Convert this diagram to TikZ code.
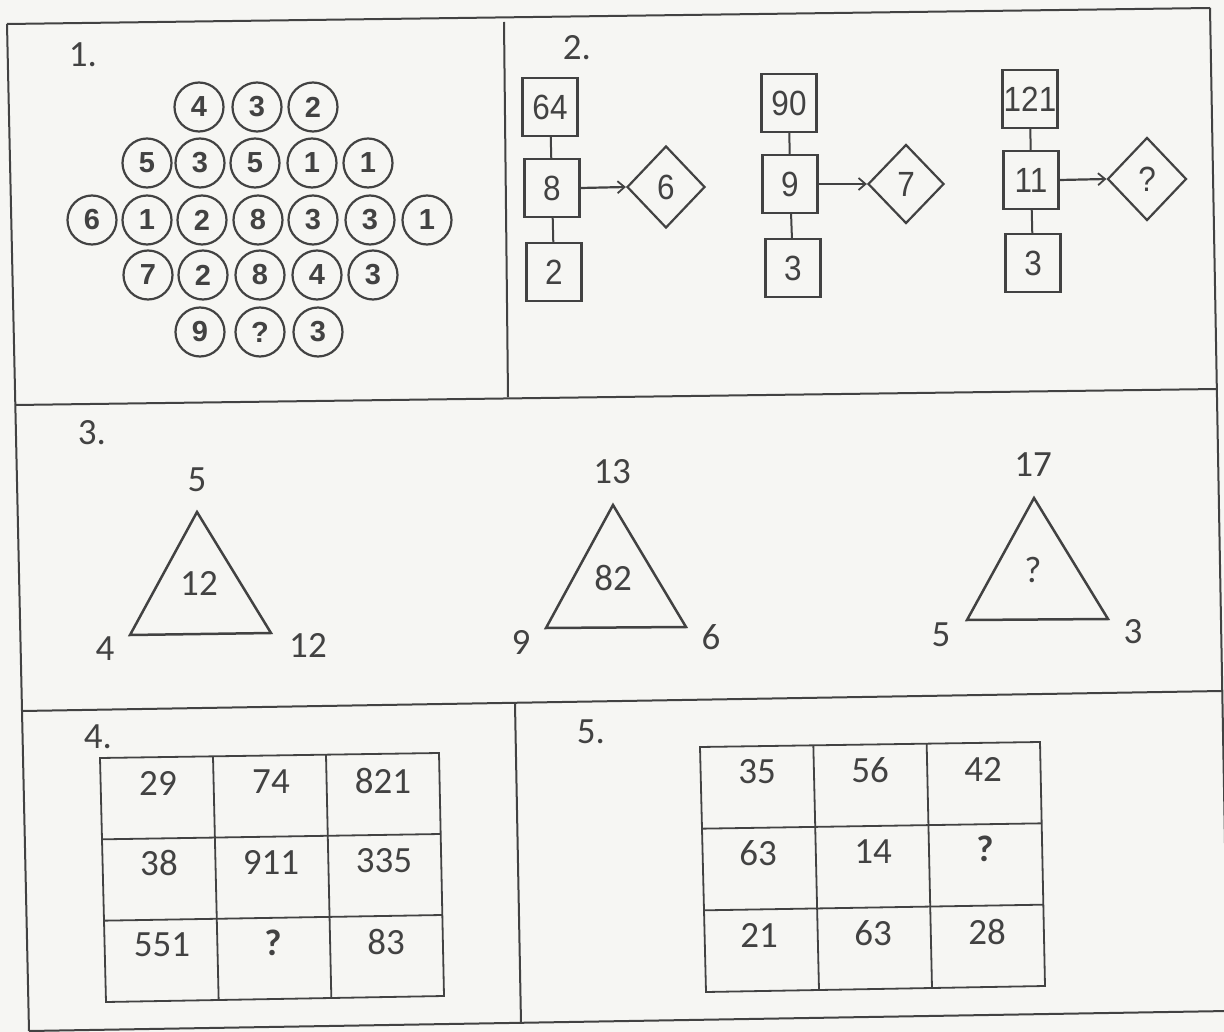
\documentclass[tikz,border=0pt]{standalone}
\usepackage{fontspec}
\setmainfont{Carlito}
\newfontfamily\arialf{Liberation Sans}
\newfontfamily\arialn[FakeStretch=0.9]{Liberation Sans}
\usetikzlibrary{shapes.geometric,arrows.meta,calc}
\definecolor{ink}{HTML}{424242}
\definecolor{paper}{HTML}{F6F6F3}
\tikzset{
  lbl/.style={font=\fontsize{37}{40}\selectfont, text=ink, inner sep=0pt},
  qbold/.style={font=\bfseries\fontsize{37}{40}\selectfont, text=ink, inner sep=0pt},
  circ/.style={circle, draw=ink, line width=2.2pt, minimum size=49pt, inner sep=0pt,
    font=\arialf\bfseries\fontsize{29}{31}\selectfont, text=ink},
  nbox/.style={draw=ink, line width=2.2pt, minimum width=55pt, minimum height=58pt, inner sep=0pt,
    font=\arialn\fontsize{35}{38}\selectfont, text=ink},
  ndia/.style={diamond, draw=ink, line width=2.2pt, inner sep=0pt,
    font=\arialn\fontsize{35}{38}\selectfont, text=ink},
  frameline/.style={draw=ink, line width=2pt},
  gridline/.style={draw=ink, line width=1.8pt},
  tri/.style={draw=ink, line width=2.5pt, line join=miter},
  arr/.style={draw=ink, line width=2.2pt, -{Straight Barb[length=7pt,width=12pt,line width=1.8pt]}},
}
\begin{document}
\begin{tikzpicture}[x=1pt,y=-1pt]
\useasboundingbox (0,0) rectangle (1224,1032);
\fill[paper] (0,0) rectangle (1224,1032);
\clip (0,0) rectangle (1224,1032);

% ---------- frame ----------
\coordinate (fTL) at (7,24);
\coordinate (fTR) at (1210,8);
\coordinate (fBL) at (29,1031);
\coordinate (fBR) at (1228,1011);
\draw[frameline] (fTL) -- (fTR);
\draw[frameline] (fTL) -- (fBL);
\draw[frameline] (fTR) -- (fBR);
\draw[frameline] (fBL) -- (fBR);
\coordinate (h1a) at (15,405);
\coordinate (h1b) at (1217,389);
\draw[frameline] (h1a) -- (h1b);
\coordinate (h2a) at (22,711);
\coordinate (h2b) at (1222,691);
\draw[frameline] (h2a) -- (h2b);
\coordinate (v1a) at (504,22);
\coordinate (v1b) at (508,397);
\draw[frameline] (v1a) -- (v1b);
\coordinate (v2a) at (515,704);
\coordinate (v2b) at (521,1023);
\draw[frameline] (v2a) -- (v2b);

% ---------- panel 1 ----------
\node[lbl] (p1) at (83,55) {1.};
\node[circ] (c11) at (199,107) {4};
\node[circ] (c12) at (257,107) {3};
\node[circ] (c13) at (313,107) {2};
\node[circ] (c21) at (147,163) {5};
\node[circ] (c22) at (200,163) {3};
\node[circ] (c23) at (255,163) {5};
\node[circ] (c24) at (312,163) {1};
\node[circ] (c25) at (368,163) {1};
\node[circ] (c31) at (92,220) {6};
\node[circ] (c32) at (147,220) {1};
\node[circ] (c33) at (202,220) {2};
\node[circ] (c34) at (258,220) {8};
\node[circ] (c35) at (313,220) {3};
\node[circ] (c36) at (370,220) {3};
\node[circ] (c37) at (427,220) {1};
\node[circ] (c41) at (148,275) {7};
\node[circ] (c42) at (203,275) {2};
\node[circ] (c43) at (260,275) {8};
\node[circ] (c44) at (317,275) {4};
\node[circ] (c45) at (373,275) {3};
\node[circ] (c51) at (200,332) {9};
\node[circ] (c52) at (260,332) {?};
\node[circ] (c53) at (318,332) {3};

% ---------- panel 2 ----------
\node[lbl] (p2) at (577,48) {2.};
\node[nbox] (a1) at (550,107) {64};
\node[nbox] (a2) at (552,188) {8};
\node[nbox] (a3) at (554,272) {2};
\node[ndia, minimum width=78pt, minimum height=82pt] (ad) at (666,187) {6};
\draw[frameline] (a1) -- (a2);
\draw[frameline] (a2) -- (a3);
\draw[arr] (a2.east) -- (ad.west);

\node[nbox] (b1) at (789,103) {90};
\node[nbox] (b2) at (790,184) {9};
\node[nbox] (b3) at (793,268) {3};
\node[ndia, minimum width=76pt, minimum height=79pt] (bd) at (906,184) {7};
\draw[frameline] (b1) -- (b2);
\draw[frameline] (b2) -- (b3);
\draw[arr] (b2.east) -- (bd.west);

\node[nbox] (d1) at (1030,99) {121};
\node[nbox] (d2) at (1031,180) {11};
\node[nbox] (d3) at (1033,263) {3};
\node[ndia, minimum width=79pt, minimum height=83pt] (dd) at (1147,179) {?};
\draw[frameline] (d1) -- (d2);
\draw[frameline] (d2) -- (d3);
\draw[arr] (d2.east) -- (dd.west);

% ---------- panel 3 ----------
\node[lbl] (p3) at (92,433) {3.};
\coordinate (t1a) at (197,512);
\coordinate (t1b) at (130,635);
\coordinate (t1c) at (271,633);
\draw[tri] (t1a) -- (t1b) -- (t1c) -- cycle;
\node[lbl] (t1top) at (197,480) {5};
\node[lbl] (t1in) at (199,583) {12};
\node[lbl] (t1l) at (105,649) {4};
\node[lbl] (t1r) at (308,645) {12};

\coordinate (t2a) at (613,505);
\coordinate (t2b) at (546,628);
\coordinate (t2c) at (686,627);
\draw[tri] (t2a) -- (t2b) -- (t2c) -- cycle;
\node[lbl] (t2top) at (612,472) {13};
\node[lbl] (t2in) at (613,578) {82};
\node[lbl] (t2l) at (521,642) {9};
\node[lbl] (t2r) at (711,637) {6};

\coordinate (t3a) at (1034,498);
\coordinate (t3b) at (967,620);
\coordinate (t3c) at (1108,619);
\draw[tri] (t3a) -- (t3b) -- (t3c) -- cycle;
\node[lbl] (t3top) at (1033,465) {17};
\node[lbl] (t3in) at (1033,570) {?};
\node[lbl] (t3l) at (941,635) {5};
\node[lbl] (t3r) at (1133,632) {3};

% ---------- panel 4 ----------
\node[lbl] (p4) at (98,737) {4.};
\coordinate (gTL) at (100,758);
\coordinate (gTR) at (439,753);
\coordinate (gBL) at (106,1002);
\coordinate (gBR) at (444,996);
\draw[gridline] (gTL) -- (gTR) -- (gBR) -- (gBL) -- cycle;
\draw[gridline] ($(gTL)!1/3!(gTR)$) -- ($(gBL)!1/3!(gBR)$);
\draw[gridline] ($(gTL)!2/3!(gTR)$) -- ($(gBL)!2/3!(gBR)$);
\draw[gridline] ($(gTL)!1/3!(gBL)$) -- ($(gTR)!1/3!(gBR)$);
\draw[gridline] ($(gTL)!2/3!(gBL)$) -- ($(gTR)!2/3!(gBR)$);
\node[lbl] (g11) at (158,783) {29};
\node[lbl] (g12) at (271,782) {74};
\node[lbl] (g13) at (383,781) {821};
\node[lbl] (g21) at (159,863) {38};
\node[lbl] (g22) at (271,862) {911};
\node[lbl] (g23) at (384,861) {335};
\node[lbl] (g31) at (162,945) {551};
\node[qbold] (g32) at (273,943) {?};
\node[lbl] (g33) at (386,942) {83};

% ---------- panel 5 ----------
\node[lbl] (p5) at (591,732) {5.};
\coordinate (hTL) at (700,747);
\coordinate (hTR) at (1040,742);
\coordinate (hBL) at (706,992);
\coordinate (hBR) at (1045,986);
\draw[gridline] (hTL) -- (hTR) -- (hBR) -- (hBL) -- cycle;
\draw[gridline] ($(hTL)!1/3!(hTR)$) -- ($(hBL)!1/3!(hBR)$);
\draw[gridline] ($(hTL)!2/3!(hTR)$) -- ($(hBL)!2/3!(hBR)$);
\draw[gridline] ($(hTL)!1/3!(hBL)$) -- ($(hTR)!1/3!(hBR)$);
\draw[gridline] ($(hTL)!2/3!(hBL)$) -- ($(hTR)!2/3!(hBR)$);
\node[lbl] (k11) at (757,772) {35};
\node[lbl] (k12) at (870,770) {56};
\node[lbl] (k13) at (983,769) {42};
\node[lbl] (k21) at (758,853) {63};
\node[lbl] (k22) at (873,852) {14};
\node[qbold] (k23) at (985,849) {?};
\node[lbl] (k31) at (759,935) {21};
\node[lbl] (k32) at (873,933) {63};
\node[lbl] (k33) at (987,932) {28};
\end{tikzpicture}
\end{document}
